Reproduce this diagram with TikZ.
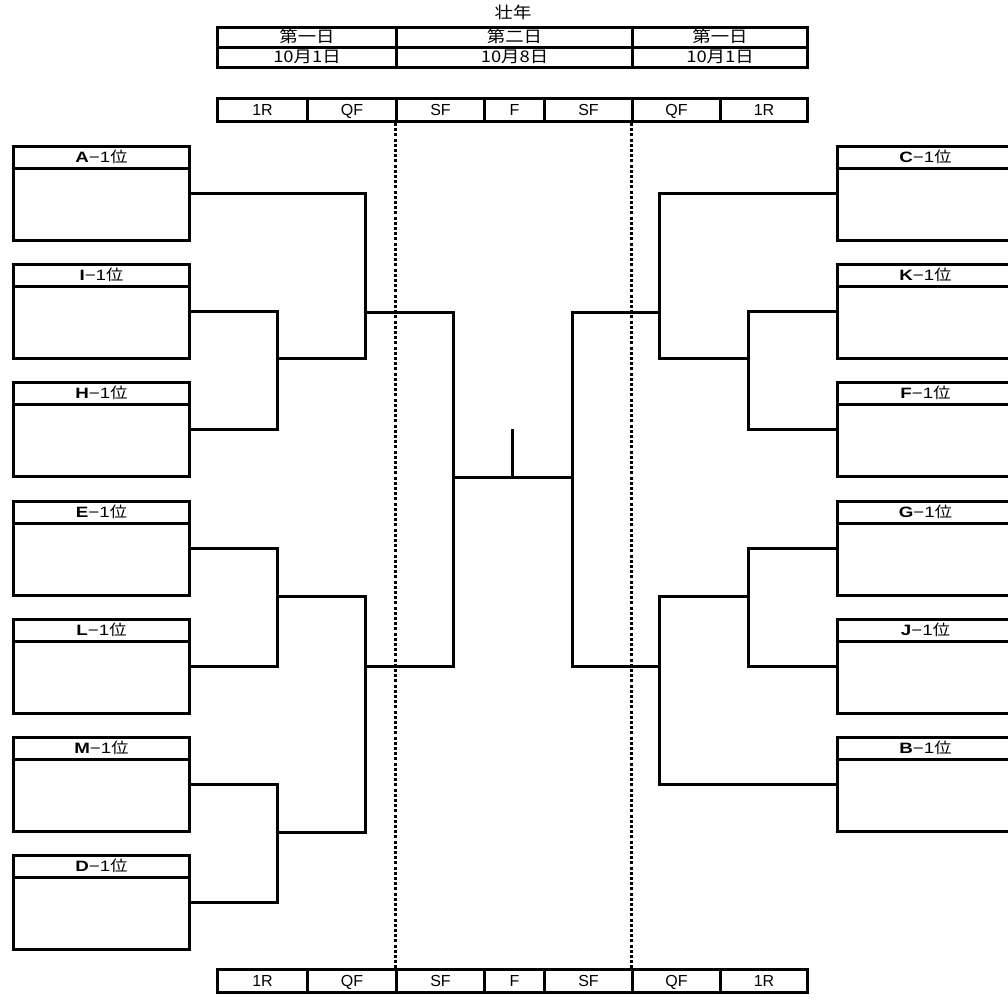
\documentclass[tikz,border=0pt]{standalone}
\usepackage{fontspec}
\setmainfont{Liberation Sans}
\newfontfamily\jp[FakeStretch=1.15]{Noto Sans CJK JP}
\newfontfamily\wide[FakeStretch=1.25]{Liberation Sans}
\usetikzlibrary{positioning}

\begin{document}
\begin{tikzpicture}[
        x=1pt, y=-1pt,
        line width=3pt,
        cell/.style={draw, rectangle, inner sep=0pt, anchor=north west, font=\fontsize{16}{16}\selectfont, text height=11.5pt, text depth=0pt},
        daycell/.style={cell, font=\jp\fontsize{16}{16}\selectfont, text height=12.5pt, text depth=1.5pt},
        team/.style={draw, rectangle, minimum width=176pt, minimum height=94pt, inner sep=0pt, anchor=north west},
        tag/.style={inner sep=0pt, font=\wide\fontsize{15}{15}\selectfont, text height=11pt, text depth=0pt},
        bracket/.style={line width=3pt},
        daysplit/.style={line width=3pt, dash pattern=on 3pt off 2.2pt}
    ]
    \useasboundingbox (0,0) rectangle (1008,998);

    % title and days
    \node[font=\jp\fontsize{16}{16}\selectfont] (title) at (513,12) {壮年};
    \foreach \x/\w/\day/\date [count=\i] in {216/179/第一日/10月1日, 395/236/第二日/10月8日, 631/175/第一日/10月1日} {
        \node[daycell, minimum width=\w pt, minimum height=20pt] (day\i) at (\x,26) {\day};
        \node[daycell, minimum width=\w pt, minimum height=20pt] (date\i) at (\x,46) {\date};
    }

    % round rows, top and bottom
    \foreach \y/\r in {97/top, 968/bot} {
        \foreach \x/\w/\lab [count=\i] in {216/90/1R, 306/89/QF, 395/88/SF, 483/60/F, 543/88/SF, 631/88/QF, 719/87/1R}
            \node[cell, minimum width=\w pt, minimum height=23pt] (\r\i) at (\x,\y) {\lab};
    }
    \draw[daysplit] (top3.south west) -- (bot3.north west);
    \draw[daysplit] (top6.south west) -- (bot6.north west);

    % teams
    \foreach \t/\y in {A/145, I/263, H/381, E/500, L/618, M/736, D/854} {
        \node[team] (\t) at (12,\y) {};
        \draw (\t.north west) ++(0,23) -- ++(176,0);
        \node[tag] at ([yshift=-11.5pt]\t.north) {\textbf{\t}−1{\jp 位}};
    }
    \foreach \t/\y in {C/145, K/263, F/381, G/500, J/618, B/736} {
        \node[team] (\t) at (836,\y) {};
        \draw (\t.north west) ++(0,23) -- ++(176,0);
        \node[tag] at ([yshift=-11.5pt]\t.north) {\textbf{\t}−1{\jp 位}};
    }

    % junctions
    \coordinate (r1L1) at (277,358);
    \coordinate (r1L2) at (277,596);
    \coordinate (r1L3) at (277,832);
    \coordinate (qfL1) at (365,312);
    \coordinate (qfL2) at (365,666);
    \coordinate (sfL) at (453,477);
    \coordinate (sfR) at (572,477);
    \coordinate (qfR1) at (659,312);
    \coordinate (qfR2) at (659,666);
    \coordinate (r1R1) at (748,358);
    \coordinate (r1R2) at (748,596);
    \coordinate (champ) at (512,429);

    % left half
    \draw[bracket] (I.east) -| (r1L1) |- (H.east);
    \draw[bracket] (E.east) -| (r1L2) |- (L.east);
    \draw[bracket] (M.east) -| (r1L3) |- (D.east);
    \draw[bracket] (A.east) -| (qfL1) |- (r1L1);
    \draw[bracket] (r1L2) -| (qfL2) |- (r1L3);
    \draw[bracket] (qfL1) -| (sfL) |- (qfL2);

    % right half
    \draw[bracket] (K.west) -| (r1R1) |- (F.west);
    \draw[bracket] (G.west) -| (r1R2) |- (J.west);
    \draw[bracket] (C.west) -| (qfR1) |- (r1R1);
    \draw[bracket] (r1R2) -| (qfR2) |- (B.west);
    \draw[bracket] (qfR1) -| (sfR) |- (qfR2);

    % final
    \draw[bracket] (sfL) -- (sfR);
    \draw[bracket] (champ) -- (champ |- sfL);
\end{tikzpicture}
\end{document}
